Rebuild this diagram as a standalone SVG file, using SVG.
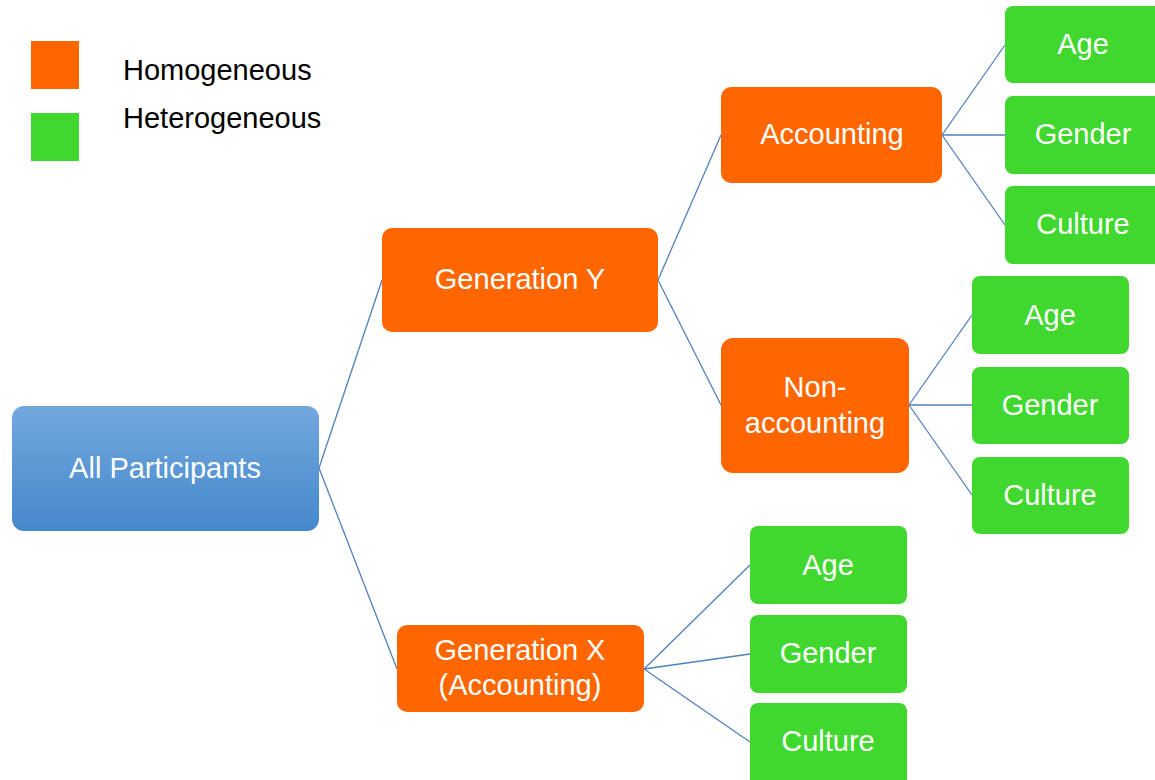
<svg xmlns="http://www.w3.org/2000/svg" width="1155" height="780" viewBox="0 0 1155 780">
<defs>
<linearGradient id="blueGrad" x1="0" y1="0" x2="0" y2="1">
<stop offset="0" stop-color="#72a8de"/>
<stop offset="1" stop-color="#4588cb"/>
</linearGradient>
</defs>
<style>
.homo{fill:#ff6600;}
.het{fill:#40d82e;}
.root{fill:url(#blueGrad);}
.lbl{font-family:"Liberation Sans",Arial,sans-serif;font-size:29px;fill:#ffffff;text-anchor:middle;}
.leg{font-family:"Liberation Sans",Arial,sans-serif;font-size:29px;fill:#000000;}
.conn line{stroke:#4f81bd;stroke-width:1.3;fill:none;}
</style>
<rect width="1155" height="780" fill="#ffffff"/>
<g id="legend">
<rect x="31" y="41" width="48" height="48" class="homo"/>
<text x="123" y="80" class="leg">Homogeneous</text>
<rect x="31" y="113" width="48" height="48" class="het"/>
<text x="123" y="128" class="leg">Heterogeneous</text>
</g>
<g id="connectors" class="conn">
<line x1="319" y1="468" x2="382" y2="280"/>
<line x1="319" y1="468" x2="397" y2="669"/>
<line x1="658" y1="280" x2="721" y2="135"/>
<line x1="658" y1="280" x2="721" y2="405"/>
<line x1="942" y1="135" x2="1005" y2="45"/>
<line x1="942" y1="135" x2="1005" y2="135"/>
<line x1="942" y1="135" x2="1005" y2="225"/>
<line x1="909" y1="405" x2="972" y2="315"/>
<line x1="909" y1="405" x2="972" y2="405"/>
<line x1="909" y1="405" x2="972" y2="495"/>
<line x1="644" y1="669" x2="750" y2="565"/>
<line x1="644" y1="669" x2="750" y2="654"/>
<line x1="644" y1="669" x2="750" y2="742"/>
</g>
<g id="all-participants">
<rect x="12" y="406" width="307" height="125" rx="12" class="root"/>
<text x="165" y="478" class="lbl">All Participants</text>
</g>
<g id="generation-y">
<rect x="382" y="228" width="276" height="104" rx="10" class="homo"/>
<text x="520" y="289" class="lbl">Generation Y</text>
</g>
<g id="generation-x">
<rect x="397" y="625" width="247" height="87" rx="10" class="homo"/>
<text x="520" y="660" class="lbl">Generation X</text>
<text x="520" y="695" class="lbl">(Accounting)</text>
</g>
<g id="accounting">
<rect x="721" y="87" width="221" height="96" rx="10" class="homo"/>
<text x="832" y="144" class="lbl">Accounting</text>
</g>
<g id="non-accounting">
<rect x="721" y="338" width="188" height="135" rx="12" class="homo"/>
<text x="815" y="397" class="lbl">Non-</text>
<text x="815" y="433" class="lbl">accounting</text>
</g>
<g id="acc-age">
<rect x="1005" y="6" width="157" height="77" rx="8" class="het"/>
<text x="1083" y="54" class="lbl">Age</text>
</g>
<g id="acc-gender">
<rect x="1005" y="96" width="157" height="78" rx="8" class="het"/>
<text x="1083" y="144" class="lbl">Gender</text>
</g>
<g id="acc-culture">
<rect x="1005" y="186" width="157" height="78" rx="8" class="het"/>
<text x="1083" y="234" class="lbl">Culture</text>
</g>
<g id="nonacc-age">
<rect x="972" y="276" width="157" height="78" rx="8" class="het"/>
<text x="1050" y="325" class="lbl">Age</text>
</g>
<g id="nonacc-gender">
<rect x="972" y="367" width="157" height="77" rx="8" class="het"/>
<text x="1050" y="415" class="lbl">Gender</text>
</g>
<g id="nonacc-culture">
<rect x="972" y="457" width="157" height="77" rx="8" class="het"/>
<text x="1050" y="505" class="lbl">Culture</text>
</g>
<g id="genx-age">
<rect x="750" y="526" width="157" height="78" rx="8" class="het"/>
<text x="828" y="575" class="lbl">Age</text>
</g>
<g id="genx-gender">
<rect x="750" y="615" width="157" height="78" rx="8" class="het"/>
<text x="828" y="663" class="lbl">Gender</text>
</g>
<g id="genx-culture">
<rect x="750" y="703" width="157" height="85" rx="8" class="het"/>
<text x="828" y="751" class="lbl">Culture</text>
</g>
</svg>
